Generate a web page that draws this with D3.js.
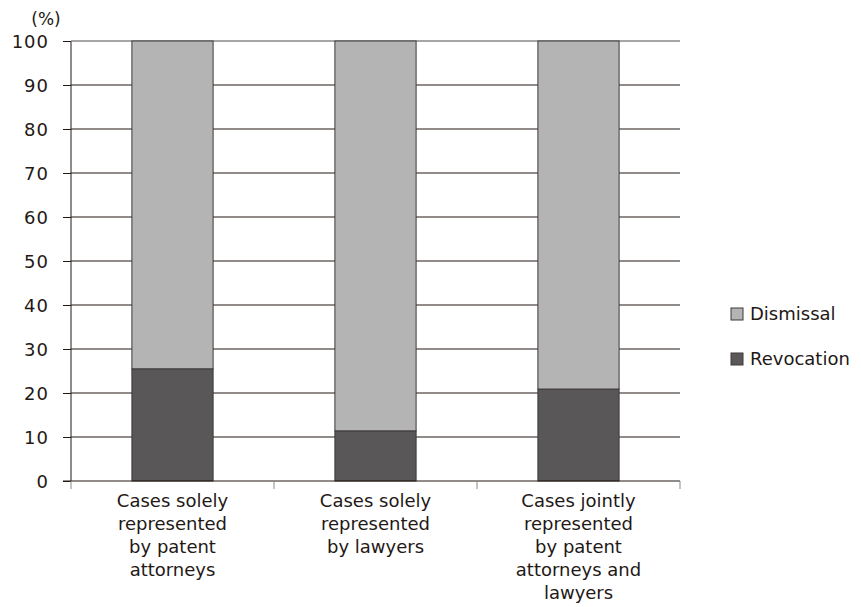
<!DOCTYPE html>
<html>
<head>
<meta charset="utf-8">
<script src="https://cdn.jsdelivr.net/npm/d3@7"></script>
<style>
  body { margin: 0; background: #fff; }
  text { font-family: "DejaVu Sans", sans-serif; fill: #231815; }
</style>
</head>
<body>
<script>
const categories = [
    ['Cases solely', 'represented', 'by patent', 'attorneys'],
    ['Cases solely', 'represented', 'by lawyers'],
    ['Cases jointly', 'represented', 'by patent', 'attorneys and', 'lawyers']
];
const revocation = [25.5, 11.4, 20.9];
const dismissal = revocation.map(v => 100 - v);
const yTicks = [0, 10, 20, 30, 40, 50, 60, 70, 80, 90, 100];
const seriesNames = ['Dismissal', 'Revocation'];
const colors = {Dismissal: '#b4b4b4', Revocation: '#595757'};

const svgWidth = 861, svgHeight = 607;
const margin = {top: 41, right: 181, bottom: 126, left: 71};
const chartWidth = svgWidth - margin.left - margin.right;
const chartHeight = svgHeight - margin.top - margin.bottom;

const svg = d3.select('body').append('svg')
    .attr('width', svgWidth)
    .attr('height', svgHeight);

const g = svg.append('g')
    .attr('transform', `translate(${margin.left}, ${margin.top})`);

const scaleX = d3.scaleBand()
    .domain(d3.range(categories.length))
    .range([0, chartWidth])
    .paddingInner(0.6)
    .paddingOuter(0.3);

const scaleY = d3.scaleLinear()
    .domain([0, 100])
    .range([chartHeight, 0]);

// y axis
g.append('g')
    .call(d3.axisLeft(scaleY).tickValues(yTicks).tickSize(8).tickPadding(14))
    .call(a => a.select('.domain').attr('stroke', '#231815').attr('d', `M0,${chartHeight}V0`))
    .call(a => a.selectAll('.tick line').attr('stroke', '#231815'))
    .call(a => a.selectAll('.tick text')
        .attr('font-size', 18)
        .attr('letter-spacing', 1)
        .attr('dy', '0.35em'));

// grid lines
g.append('g')
    .selectAll('line')
    .data(yTicks.filter(d => d > 0))
    .join('line')
    .attr('x1', 0)
    .attr('x2', chartWidth)
    .attr('y1', d => scaleY(d))
    .attr('y2', d => scaleY(d))
    .attr('stroke', d => d === 100 ? '#898989' : '#231815')
    .attr('stroke-width', d => d === 100 ? 1.5 : 1);

// stacked bars
const stack = categories.map((c, i) => ({i, Revocation: revocation[i], Dismissal: dismissal[i]}));
const series = d3.stack().keys(['Revocation', 'Dismissal'])(stack);

g.append('g')
    .selectAll('g')
    .data(series)
    .join('g')
    .attr('fill', d => colors[d.key])
    .selectAll('rect')
    .data(d => d)
    .join('rect')
    .attr('x', d => scaleX(d.data.i))
    .attr('y', d => scaleY(d[1]))
    .attr('width', scaleX.bandwidth())
    .attr('height', d => scaleY(d[0]) - scaleY(d[1]))
    .attr('stroke', '#3e3a39')
    .attr('stroke-width', 1);

// x axis
const xAxis = g.append('g').attr('transform', `translate(0, ${chartHeight})`);
xAxis.append('line')
    .attr('x1', -8).attr('x2', chartWidth)
    .attr('stroke', '#231815');
xAxis.selectAll('.sep')
    .data(d3.range(categories.length + 1))
    .join('line')
    .attr('class', 'sep')
    .attr('x1', d => d * chartWidth / categories.length)
    .attr('x2', d => d * chartWidth / categories.length)
    .attr('y1', 0).attr('y2', 8)
    .attr('stroke', '#898989');

xAxis.selectAll('.cat')
    .data(categories)
    .join('text')
    .attr('class', 'cat')
    .attr('text-anchor', 'middle')
    .attr('font-size', 18)
    .attr('transform', (d, i) => `translate(${scaleX(i) + scaleX.bandwidth() / 2}, 26)`)
    .selectAll('tspan')
    .data(d => d)
    .join('tspan')
    .attr('x', 0)
    .attr('dy', (d, j) => j === 0 ? 0 : 23)
    .text(d => d);

// unit label
svg.append('text')
    .attr('x', 46).attr('y', 25)
    .attr('text-anchor', 'middle')
    .attr('font-size', 17)
    .text('(%)');

// legend
const legend = svg.append('g').attr('transform', 'translate(731, 308)');
legend.selectAll('g')
    .data(seriesNames)
    .join('g')
    .attr('transform', (d, i) => `translate(0, ${i * 45})`)
    .call(l => l.append('rect')
        .attr('width', 12).attr('height', 12)
        .attr('fill', d => colors[d])
        .attr('stroke', '#3e3a39'))
    .call(l => l.append('text')
        .attr('x', 19).attr('y', 6)
        .attr('dy', '0.35em')
        .attr('font-size', 18)
        .text(d => d));
</script>
</body>
</html>
